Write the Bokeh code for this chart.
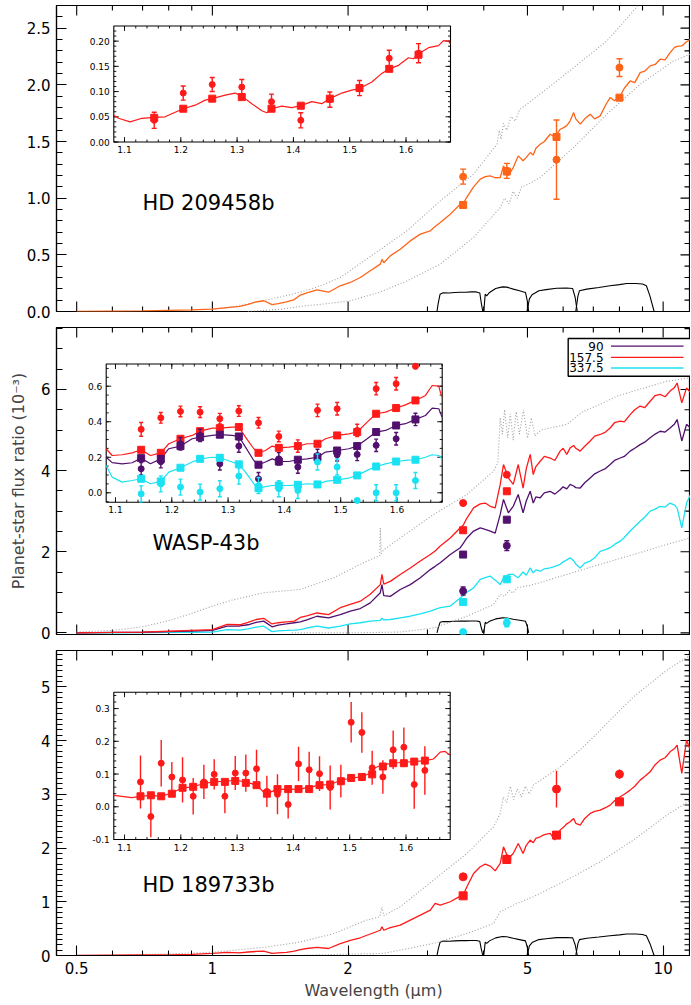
import numpy as np
from bokeh.plotting import figure
from bokeh.models import (Range1d, LinearScale, FixedTicker, SingleIntervalTicker,
                          NumeralTickFormatter, CustomJSTickFormatter, Label)
from bokeh.layouts import column
from bokeh.embed import file_html
from bokeh.resources import INLINE
from bokeh.core.properties import value

FONT = "DejaVu Sans"
ORANGE = "#FF6418"
RED = "#FF1A1A"
PURPLE = "#52106E"
CYAN = "#1AE2F2"
GREY = "#A0A0A0"

# ---------------------------------------------------------------- data
# common wavelength grid (micron) for the model spectra
model_wl = [0.50, 0.60, 0.70, 0.80, 0.90, 1.00, 1.078, 1.15, 1.20, 1.25,
            1.30, 1.356, 1.40, 1.46, 1.52, 1.567, 1.62, 1.706, 1.81, 1.922,
            2.023, 2.129, 2.24, 2.358, 2.378, 2.40, 2.481, 2.611, 2.748, 2.893,
            3.044, 3.12, 3.203, 3.371, 3.548, 3.60, 3.67, 3.797, 3.929, 4.03,
            4.135, 4.24, 4.351, 4.424, 4.535, 4.65, 4.77, 4.89, 4.97, 5.071,
            5.15, 5.22, 5.336, 5.45, 5.616, 5.75, 5.909, 6.0, 6.113, 6.219,
            6.33, 6.40, 6.546, 6.70, 6.888, 7.05, 7.249, 7.45, 7.629, 7.80,
            8.029, 8.20, 8.449, 8.65, 8.892, 9.10, 9.358, 9.60, 9.847, 10.10,
            10.36, 10.60, 10.74, 11.00, 11.27, 11.50]

# IRAC bandpasses (relative response)
irac1_wl = [3.15, 3.17, 3.20, 3.25, 3.35, 3.45, 3.55, 3.65, 3.75, 3.85, 3.92, 3.95, 3.98]
irac1_t = [0.0, 0.30, 0.62, 0.67, 0.66, 0.68, 0.69, 0.69, 0.70, 0.70, 0.66, 0.30, 0.0]
irac2_wl = [4.00, 4.03, 4.06, 4.12, 4.25, 4.40, 4.50, 4.65, 4.80, 4.95, 5.00, 5.03]
irac2_t = [0.0, 0.62, 0.56, 0.68, 0.82, 0.88, 0.87, 0.80, 0.74, 0.68, 0.35, 0.0]
irac3_wl = [4.99, 5.05, 5.12, 5.30, 5.50, 5.80, 6.10, 6.30, 6.38, 6.45]
irac3_t = [0.0, 0.45, 0.60, 0.74, 0.78, 0.83, 0.84, 0.82, 0.50, 0.0]
irac4_wl = [6.40, 6.47, 6.52, 6.77, 7.20, 7.62, 8.00, 8.30, 8.70, 9.00, 9.18, 9.35, 9.55]
irac4_t = [0.0, 0.55, 0.74, 0.80, 0.86, 0.92, 0.96, 1.00, 1.00, 0.98, 0.92, 0.55, 0.0]

# ---- HD 209458b
hd209_model = [0.0, 0.002, 0.005, 0.01, 0.015, 0.021, 0.035, 0.046, 0.063, 0.085,
               0.095, 0.060, 0.070, 0.085, 0.105, 0.145, 0.165, 0.19, 0.17, 0.227,
               0.256, 0.30, 0.359, 0.418, 0.46, 0.43, 0.491, 0.55, 0.623, 0.683,
               0.712, 0.75, 0.785, 0.859, 0.947, 0.95, 1.01, 1.10, 1.168, 1.19,
               1.197, 1.18, 1.182, 1.285, 1.20, 1.27, 1.373, 1.33, 1.36, 1.402,
               1.38, 1.44, 1.476, 1.50, 1.564, 1.54, 1.608, 1.62, 1.64, 1.682,
               1.755, 1.70, 1.653, 1.70, 1.741, 1.70, 1.726, 1.82, 1.887, 1.86,
               1.902, 1.97, 2.034, 2.02, 2.108, 2.12, 2.167, 2.18, 2.226, 2.22,
               2.284, 2.33, 2.34, 2.343, 2.38, 2.402]
hd209_hi_wl = [1.0, 1.15, 1.28, 1.42, 1.567, 1.72, 1.922, 2.279, 2.703, 3.203, 3.797, 4.279, 4.33,
               4.37, 4.424, 4.50, 4.60, 4.70, 4.80, 4.986, 5.811, 6.327, 7.502, 8.593, 9.2]
hd209_hi = [0.02, 0.05, 0.09, 0.13, 0.17, 0.22, 0.30, 0.506, 0.712, 0.976, 1.212, 1.476, 1.60,
            1.52, 1.66, 1.60, 1.72, 1.68, 1.78, 1.829, 2.034, 2.152, 2.387, 2.652, 2.80]
hd209_lo_wl = [1.2, 1.42, 1.567, 1.80, 2.02, 2.35, 2.703, 3.203, 3.797, 4.351, 4.45,
               4.55, 4.65, 4.75, 4.85, 5.0, 5.336, 6.327, 7.502, 8.892, 10.55, 11.5]
hd209_lo = [0.0, 0.02, 0.045, 0.07, 0.094, 0.17, 0.27, 0.418, 0.653, 0.917, 1.0,
            0.95, 1.06, 1.0, 1.1, 1.12, 1.182, 1.446, 1.741, 2.005, 2.211, 2.27]
spitzer_wl = [3.6, 4.5, 5.8, 8.0]
hd209_obs = [1.19, 1.241, 1.34, 2.152]
hd209_err = [0.066, 0.066, 0.35, 0.078]
hd209_band = [0.94, 1.235, 1.54, 1.887]
hd209_wfc3_wl = [1.1528, 1.2043, 1.2558, 1.3083, 1.3611, 1.4131, 1.4647, 1.5174, 1.5702, 1.6222]
hd209_wfc3 = [0.043, 0.097, 0.114, 0.109, 0.080, 0.043, 0.084, 0.107, 0.166, 0.176]
hd209_wfc3_err = [0.016, 0.014, 0.014, 0.015, 0.015, 0.015, 0.015, 0.015, 0.016, 0.019]
hd209_wfc3_band = [0.048, 0.066, 0.086, 0.089, 0.066, 0.072, 0.086, 0.107, 0.145, 0.173]
hd209_zoom_wl = [1.081, 1.0893, 1.110, 1.1308, 1.1528, 1.1722, 1.184, 1.2043, 1.2255, 1.2433,
                 1.2558, 1.2788, 1.2966, 1.3083, 1.3261, 1.3439, 1.3528, 1.3611, 1.3794, 1.3972,
                 1.4131, 1.4327, 1.4505, 1.4647, 1.486, 1.5037, 1.5174, 1.5393, 1.557, 1.5702,
                 1.5867, 1.6044, 1.6133, 1.6222, 1.64, 1.6577, 1.6666, 1.6755, 1.6785]
hd209_zoom = [0.053, 0.047, 0.040, 0.047, 0.049, 0.050, 0.056, 0.066, 0.073, 0.083,
              0.086, 0.093, 0.097, 0.091, 0.076, 0.062, 0.058, 0.066, 0.071, 0.068,
              0.072, 0.080, 0.076, 0.086, 0.097, 0.103, 0.106, 0.119, 0.136, 0.145,
              0.152, 0.167, 0.165, 0.175, 0.187, 0.191, 0.201, 0.200, 0.195]

# ---- WASP-43b (orbital phases 90, 157.5, 337.5 deg)
wasp_phases = ["90", "157.5", "337.5"]
wasp_model_90 = [0.0, 0.01, 0.015, 0.03, 0.045, 0.06, 0.165, 0.17, 0.20, 0.26,
                 0.29, 0.15, 0.19, 0.22, 0.25, 0.27, 0.32, 0.41, 0.37, 0.45,
                 0.535, 0.60, 0.74, 0.99, 1.19, 0.92, 0.90, 1.07, 1.19, 1.36,
                 1.56, 1.64, 1.73, 1.93, 2.10, 2.20, 2.34, 2.51, 2.59, 2.55,
                 2.51, 2.46, 2.92, 3.29, 2.96, 3.12, 3.41, 2.96, 3.25, 3.49,
                 3.20, 3.35, 3.33, 3.45, 3.49, 3.42, 3.53, 3.60, 3.55, 3.66,
                 3.62, 3.58, 3.57, 3.70, 3.82, 3.92, 3.99, 4.05, 4.15, 4.25,
                 4.31, 4.35, 4.48, 4.55, 4.64, 4.70, 4.81, 4.90, 4.97, 4.95,
                 5.05, 5.15, 5.26, 4.73, 5.14, 5.05]
wasp_model_157 = [0.0, 0.01, 0.02, 0.04, 0.06, 0.08, 0.21, 0.20, 0.26, 0.33,
                  0.36, 0.22, 0.25, 0.27, 0.29, 0.38, 0.42, 0.49, 0.45, 0.62,
                  0.70, 0.78, 0.95, 1.19, 1.44, 1.20, 1.27, 1.44, 1.60, 1.77,
                  1.93, 2.02, 2.14, 2.34, 2.59, 2.65, 2.83, 3.08, 3.18, 3.20,
                  3.12, 3.08, 3.66, 4.15, 3.82, 3.66, 4.15, 3.57, 4.05, 4.40,
                  3.90, 4.10, 4.23, 4.35, 4.31, 4.25, 4.48, 4.55, 4.40, 4.56,
                  4.62, 4.55, 4.48, 4.60, 4.73, 4.85, 4.89, 4.95, 5.05, 5.18,
                  5.22, 5.20, 5.38, 5.50, 5.59, 5.55, 5.71, 5.85, 5.88, 5.82,
                  5.96, 6.05, 6.16, 5.67, 6.04, 5.92]
wasp_model_337 = [0.0, 0.0, 0.005, 0.01, 0.015, 0.02, 0.08, 0.07, 0.10, 0.14,
                  0.165, 0.03, 0.05, 0.06, 0.07, 0.08, 0.12, 0.165, 0.12, 0.165,
                  0.22, 0.25, 0.29, 0.31, 0.36, 0.32, 0.33, 0.37, 0.41, 0.47,
                  0.535, 0.58, 0.62, 0.66, 0.86, 0.92, 1.0, 1.11, 1.32, 1.36,
                  1.40, 1.30, 1.19, 1.36, 1.44, 1.44, 1.36, 1.50, 1.42, 1.60,
                  1.48, 1.55, 1.52, 1.58, 1.60, 1.64, 1.69, 1.75, 1.80, 1.85,
                  1.78, 1.70, 1.60, 1.72, 1.77, 1.85, 2.01, 2.05, 2.10, 2.18,
                  2.26, 2.35, 2.51, 2.62, 2.75, 2.85, 3.00, 3.05, 3.12, 3.10,
                  3.20, 3.15, 3.08, 2.59, 3.20, 3.41]
wasp_hi_wl = [0.50, 0.60, 0.70, 0.80, 0.90, 1.00, 1.10, 1.30, 1.567, 1.859,
              2.202, 2.35, 2.358, 2.37, 2.40, 2.611, 3.096, 3.67, 4.207, 4.30,
              4.35, 4.40, 4.45, 4.52, 4.58, 4.65, 4.72, 4.80, 4.90, 5.00,
              5.10, 5.20, 5.35, 5.616, 6.113, 6.65, 7.249, 7.88, 8.59, 9.358,
              10.19, 11.5]
wasp_hi = [0.02, 0.06, 0.15, 0.30, 0.48, 0.66, 0.80, 0.99, 1.07, 1.36,
           1.77, 1.90, 2.59, 1.95, 2.05, 2.34, 2.92, 3.41, 3.99, 4.20,
           5.30, 4.90, 5.50, 4.80, 5.40, 4.75, 5.45, 4.90, 5.50, 4.80,
           5.30, 4.85, 5.00, 5.05, 5.14, 5.46, 5.63, 5.83, 5.96, 6.08,
           6.20, 6.29]
wasp_lo_wl = [1.5, 2.0, 2.611, 3.096, 3.67, 4.207, 4.351, 4.45, 4.55, 4.65, 4.74, 5.15,
              6.113, 7.249, 8.59, 10.19, 11.5]
wasp_lo = [0.0, 0.0, 0.02, 0.12, 0.41, 0.70, 0.95, 0.90, 1.05, 0.98, 1.11, 1.19,
           1.44, 1.69, 1.93, 2.18, 2.34]
wasp_obs_wl = [3.6, 4.5]
wasp_obs_90 = [1.03, 2.15]
wasp_err_90 = [0.10, 0.12]
wasp_band_90 = [1.93, 2.79]
wasp_obs_157 = [3.20, 3.90]
wasp_err_157 = [0.05, 0.05]
wasp_band_157 = [2.53, 3.49]
wasp_obs_337 = [0.02, 0.25]
wasp_err_337 = [0.06, 0.10]
wasp_band_337 = [0.76, 1.32]
wasp_wfc3_wl = [1.1456, 1.1805, 1.2154, 1.2503, 1.2853, 1.3191, 1.3540, 1.3901,
                1.4239, 1.4588, 1.4937, 1.5293, 1.5630, 1.5985, 1.6328]
wasp_wfc3_157 = [0.357, 0.422, 0.458, 0.454, 0.417, 0.460, 0.394, 0.317,
                 0.263, 0.464, 0.473, 0.351, 0.586, 0.614, 0.712]
wasp_wfc3_err_157 = [0.039, 0.03, 0.03, 0.03, 0.03, 0.03, 0.03, 0.03,
                     0.035, 0.035, 0.035, 0.035, 0.035, 0.035, 0.012]
wasp_wfc3_band_157 = [0.242, 0.225, 0.304, 0.347, 0.364, 0.370, 0.225, 0.253,
                      0.263, 0.276, 0.323, 0.342, 0.445, 0.477, 0.520]
wasp_wfc3_90 = [0.135, 0.175, 0.276, 0.323, 0.163, 0.263, 0.079, 0.191,
                0.145, 0.210, 0.214, 0.216, 0.267, 0.304, 0.413]
wasp_wfc3_err_90 = [0.035, 0.035, 0.035, 0.035, 0.035, 0.035, 0.035, 0.035,
                    0.035, 0.035, 0.035, 0.035, 0.035, 0.035, 0.035]
wasp_wfc3_band_90 = [0.195, 0.19, 0.263, 0.313, 0.327, 0.317, 0.158, 0.176,
                     0.186, 0.200, 0.238, 0.263, 0.342, 0.379, 0.413]
wasp_wfc3_337 = [-0.006, 0.05, 0.032, 0.004, 0.023, 0.094, 0.041, 0.023,
                 0.013, 0.173, 0.145, -0.043, 0.0, 0.0, 0.069]
wasp_wfc3_err_337 = [0.045, 0.045, 0.045, 0.045, 0.045, 0.045, 0.045, 0.045,
                     0.045, 0.045, 0.045, 0.008, 0.045, 0.045, 0.045]
wasp_wfc3_band_337 = [0.079, 0.064, 0.141, 0.191, 0.197, 0.16, 0.026, 0.041,
                      0.045, 0.047, 0.073, 0.098, 0.148, 0.176, 0.186]
wasp_zoom_wl = [1.0834, 1.0941, 1.1118, 1.1296, 1.1456, 1.1621, 1.1805, 1.1947, 1.2154, 1.2362,
                1.2504, 1.2717, 1.2853, 1.3072, 1.3191, 1.3309, 1.3457, 1.354, 1.3664, 1.3783,
                1.3901, 1.4079, 1.4239, 1.4405, 1.4588, 1.473, 1.4938, 1.5145, 1.5293, 1.547,
                1.563, 1.5796, 1.5985, 1.6151, 1.6329, 1.6506, 1.6625, 1.6743, 1.677, 1.680]
wasp_zoom_157 = [0.248, 0.21, 0.214, 0.225, 0.242, 0.21, 0.225, 0.276, 0.304, 0.323,
                 0.347, 0.364, 0.364, 0.37, 0.37, 0.313, 0.248, 0.225, 0.238, 0.263,
                 0.253, 0.257, 0.263, 0.276, 0.276, 0.304, 0.323, 0.332, 0.342, 0.398,
                 0.445, 0.454, 0.477, 0.495, 0.52, 0.548, 0.604, 0.6, 0.567, 0.539]
wasp_zoom_90 = [0.2, 0.17, 0.163, 0.169, 0.195, 0.163, 0.191, 0.248, 0.263, 0.304,
                0.313, 0.323, 0.327, 0.323, 0.317, 0.257, 0.182, 0.158, 0.173, 0.191,
                0.176, 0.176, 0.186, 0.191, 0.2, 0.229, 0.238, 0.248, 0.263, 0.304,
                0.342, 0.351, 0.379, 0.389, 0.413, 0.435, 0.477, 0.473, 0.45, 0.426]
wasp_zoom_337 = [0.154, 0.088, 0.06, 0.069, 0.079, 0.051, 0.064, 0.116, 0.141, 0.173,
                 0.191, 0.2, 0.197, 0.173, 0.16, 0.116, 0.051, 0.026, 0.035, 0.041,
                 0.041, 0.041, 0.045, 0.051, 0.047, 0.064, 0.073, 0.083, 0.098, 0.126,
                 0.148, 0.163, 0.176, 0.182, 0.186, 0.2, 0.214, 0.21, 0.2, 0.191]

# ---- HD 189733b
hd189_model = [0.0, 0.005, 0.01, 0.01, 0.02, 0.04, 0.06, 0.05, 0.065, 0.075,
               0.08, 0.04, 0.05, 0.06, 0.08, 0.11, 0.13, 0.15, 0.13, 0.22,
               0.28, 0.33, 0.40, 0.47, 0.535, 0.47, 0.52, 0.566, 0.659, 0.752,
               0.845, 0.97, 0.938, 1.0, 1.105, 1.124, 1.28, 1.527, 1.651, 1.70,
               1.663, 1.576, 1.713, 2.023, 1.806, 1.899, 2.085, 1.899, 2.05, 2.147,
               2.10, 2.18, 2.209, 2.25, 2.271, 2.15, 2.333, 2.38, 2.45, 2.488,
               2.55, 2.46, 2.426, 2.55, 2.643, 2.68, 2.705, 2.75, 2.798, 2.88,
               2.953, 3.0, 3.077, 3.15, 3.263, 3.33, 3.418, 3.55, 3.635, 3.68,
               3.790, 3.85, 3.914, 3.387, 4.007, 3.821]
hd189_hi_wl = [0.50, 0.70, 0.80, 1.0, 1.30, 1.567, 1.859, 2.202, 2.35, 2.378,
               2.40, 2.611, 3.096, 3.67, 4.207, 4.351, 4.42, 4.50, 4.58, 4.66,
               4.75, 4.85, 4.95, 5.05, 5.15, 5.909, 6.65, 7.249, 7.88, 8.59,
               9.358, 10.19, 11.5]
hd189_hi = [0.0, 0.02, 0.03, 0.06, 0.15, 0.25, 0.41, 0.66, 0.72, 0.907,
            0.74, 0.907, 1.403, 1.899, 2.395, 2.643, 2.95, 2.85, 3.15, 2.90,
            3.10, 2.95, 3.15, 3.0, 3.17, 3.51, 3.88, 4.19, 4.50, 4.81,
            5.06, 5.31, 5.59]
hd189_lo_wl = [1.5, 2.40, 3.096, 3.67, 4.207, 4.351, 4.74, 5.15, 6.113, 7.249, 8.59, 10.19, 11.5]
hd189_lo = [0.0, 0.04, 0.225, 0.41, 0.597, 0.814, 0.969, 1.093, 1.403, 1.744, 2.147, 2.612, 2.89]
hd189_obs = [1.464, 1.80, 3.096, 3.374]
hd189_err = [0.03, 0.03, 0.34, 0.087]
hd189_band = [1.11, 1.786, 2.24, 2.859]
hd189_wfc3_wl = [1.1284, 1.1468, 1.1652, 1.1841, 1.2031, 1.222, 1.241, 1.2593, 1.2783, 1.2967,
                 1.3155, 1.3345, 1.3529, 1.3717, 1.3907, 1.4091, 1.4280, 1.4464, 1.4653, 1.4843,
                 1.5026, 1.5216, 1.5399, 1.5589, 1.5772, 1.5962, 1.6146, 1.6335]
hd189_wfc3 = [0.076, -0.030, 0.133, 0.091, 0.082, 0.032, 0.076, 0.099, 0.032, 0.103,
              0.103, 0.116, 0.047, 0.038, 0.007, 0.131, 0.113, 0.101, 0.059, 0.078,
              0.258, 0.227, 0.119, 0.091, 0.174, 0.182, 0.068, 0.111]
hd189_wfc3_err = [0.081, 0.063, 0.071, 0.046, 0.069, 0.056, 0.052, 0.046, 0.052, 0.052,
                  0.057, 0.058, 0.048, 0.061, 0.043, 0.052, 0.055, 0.053, 0.067, 0.050,
                  0.062, 0.062, 0.052, 0.051, 0.059, 0.060, 0.074, 0.074]
hd189_wfc3_band = [0.032, 0.035, 0.032, 0.040, 0.058, 0.061, 0.068, 0.076, 0.076, 0.079,
                   0.073, 0.066, 0.040, 0.054, 0.054, 0.054, 0.054, 0.066, 0.068, 0.078,
                   0.088, 0.091, 0.099, 0.123, 0.133, 0.133, 0.138, 0.141]
hd189_zoom_wl = [1.081, 1.0953, 1.113, 1.1284, 1.1468, 1.1652, 1.1841, 1.2031, 1.222, 1.241,
                 1.2593, 1.2783, 1.2967, 1.3155, 1.3345, 1.3469, 1.3529, 1.3717, 1.3907, 1.4091,
                 1.4280, 1.4464, 1.4653, 1.4843, 1.5026, 1.5216, 1.5399, 1.5452, 1.5589, 1.5772,
                 1.5962, 1.6146, 1.6335, 1.6488, 1.6607, 1.6696, 1.6784]
hd189_zoom = [0.035, 0.032, 0.028, 0.032, 0.035, 0.032, 0.042, 0.058, 0.061, 0.071,
              0.076, 0.078, 0.081, 0.076, 0.066, 0.045, 0.040, 0.054, 0.053, 0.054,
              0.059, 0.066, 0.068, 0.081, 0.088, 0.091, 0.106, 0.119, 0.129, 0.133,
              0.136, 0.138, 0.141, 0.146, 0.167, 0.169, 0.157]

# bandpass display scale per panel (in panel units)
hd209_filter_scale = 0.247
wasp_filter_scale = 0.42
hd189_filter_scale = 0.40

# main axes ticks
x_major = [0.5, 1, 2, 5, 10]
x_minor = [0.6, 0.7, 0.8, 0.9, 3, 4, 6, 7, 8, 9]
inset_x_major = [1.1, 1.2, 1.3, 1.4, 1.5, 1.6]
inset_x_labels = ["1.1", "1.2", "1.3", "1.4", "1.5", "1.6"]

# ---------------------------------------------------------------- layout
FRAME_L = 56
FRAME_W = 634
X_RANGE = (0.451, 11.5)


def style_axis(ax, ticker, size="15px"):
    ax.ticker = ticker
    ax.axis_line_color = "black"
    ax.axis_line_width = 1.2
    ax.major_tick_line_color = "black"
    ax.minor_tick_line_color = "black"
    ax.major_tick_line_width = 1.1
    ax.minor_tick_line_width = 1.0
    ax.major_tick_in = 10
    ax.major_tick_out = 0
    ax.minor_tick_in = 5
    ax.minor_tick_out = 0
    ax.major_label_text_font = FONT
    ax.major_label_text_color = "black"
    ax.major_label_text_font_size = size
    ax.major_label_standoff = 6


def frame_ticks(p, yr, frame_h, yint, ynminor, bottom):
    """inward ticks on top (and bottom) and right edges of the main frame"""
    ypp = (yr[1] - yr[0]) / frame_h
    dpp = np.log10(X_RANGE[1] / X_RANGE[0]) / FRAME_W
    y_maj = [round(v, 6) for v in np.arange(np.ceil(yr[0] / yint) * yint, yr[1] + 1e-9, yint)]
    step = yint / ynminor
    y_min = [round(v, 6) for v in np.arange(np.ceil(yr[0] / step) * step, yr[1] + 1e-9, step)]
    y_min = [v for v in y_min if min(abs(v - m) for m in y_maj) > 1e-6]
    segs = []
    for ticks, ln in ((x_major, 10), (x_minor, 5)):
        for t in ticks:
            segs.append((t, yr[1], t, yr[1] - ln * ypp))
            if bottom:
                segs.append((t, yr[0], t, yr[0] + ln * ypp))
    for ticks, ln in ((y_maj, 10), (y_min, 6)):
        for t in ticks:
            segs.append((X_RANGE[1], t, X_RANGE[1] / 10 ** (ln * dpp), t))
    p.segment(x0=[s[0] for s in segs], y0=[s[1] for s in segs],
              x1=[s[2] for s in segs], y1=[s[3] for s in segs],
              line_color="black", line_width=1.1)


def make_panel(frame_h, yr, yint, ynminor, yfmt, btop, bbot, xlabels, ylabel=None):
    p = figure(x_axis_type="log", x_range=Range1d(*X_RANGE), y_range=Range1d(*yr),
               frame_width=FRAME_W, frame_height=frame_h,
               min_border_left=FRAME_L, min_border_right=0,
               min_border_top=btop, min_border_bottom=bbot,
               x_axis_location="below" if xlabels else None,
               output_backend="svg", toolbar_location=None)
    p.grid.visible = False
    p.outline_line_color = "black"
    p.outline_line_width = 1.2
    if xlabels:
        bx = p.below[0]
        style_axis(bx, FixedTicker(ticks=x_major, minor_ticks=x_minor))
        bx.formatter = CustomJSTickFormatter(code="return String(tick);")
    ly = p.left[0]
    style_axis(ly, SingleIntervalTicker(interval=yint, num_minor_ticks=ynminor))
    ly.minor_tick_in = 6
    if yfmt:
        ly.formatter = NumeralTickFormatter(format=yfmt)
    if ylabel:
        ly.axis_label = ylabel
        ly.axis_label_text_font = FONT
        ly.axis_label_text_font_size = "16px"
        ly.axis_label_text_font_style = "normal"
        ly.axis_label_standoff = 10
    frame_ticks(p, yr, frame_h, yint, ynminor, bottom=not xlabels)
    return p


def draw_filters(p, scale, channels):
    for wl, t in channels:
        p.line(wl, [v * scale for v in t], line_color="black", line_width=1.1)


def errorbars(p, x, y, e, color, cap=0, lw=1.4, **kw):
    lo = [a - b for a, b in zip(y, e)]
    hi = [a + b for a, b in zip(y, e)]
    p.segment(x0=x, y0=lo, x1=x, y1=hi, line_color=color, line_width=lw, **kw)
    if cap:
        p.scatter(x=list(x) + list(x), y=lo + hi, marker="dash", size=cap,
                  line_color=color, line_width=lw, **kw)


def add_inset(p, frame_h, box, xr, yr, yticks, ylabels, yminor):
    L, R, T, B = box
    sx = (xr[1] - xr[0]) / (R - L)
    sy = (yr[1] - yr[0]) / (B - T)
    p.extra_x_ranges = {"ix": Range1d(xr[0] - L * sx, xr[1] + (FRAME_W - R) * sx)}
    p.extra_y_ranges = {"iy": Range1d(yr[0] - (frame_h - B) * sy, yr[1] + T * sy)}
    p.extra_x_scales = {"ix": LinearScale()}
    kw = dict(x_range_name="ix", y_range_name="iy")
    p.quad(left=[xr[0]], right=[xr[1]], bottom=[yr[0]], top=[yr[1]],
           fill_color="white", line_color="black", line_width=1.1, **kw)
    xmin = [round(v, 4) for v in np.arange(np.ceil(xr[0] / 0.02) * 0.02, xr[1], 0.02)]
    ymin = [round(v, 4) for v in np.arange(np.ceil(yr[0] / yminor) * yminor, yr[1], yminor)]
    segs = []
    for ticks, ln in ((inset_x_major, 5), (xmin, 2.5)):
        for t in ticks:
            segs.append((t, yr[0], t, yr[0] + ln * sy))
            segs.append((t, yr[1], t, yr[1] - ln * sy))
    for ticks, ln in ((yticks, 5), (ymin, 2.5)):
        for t in ticks:
            if yr[0] <= t <= yr[1]:
                segs.append((xr[0], t, xr[0] + ln * sx, t))
                segs.append((xr[1], t, xr[1] - ln * sx, t))
    p.segment(x0=[s[0] for s in segs], y0=[s[1] for s in segs],
              x1=[s[2] for s in segs], y1=[s[3] for s in segs],
              line_color="black", line_width=0.9, **kw)
    p.text(x=inset_x_major, y=[yr[0] - 4 * sy] * len(inset_x_major), text=inset_x_labels,
           text_font=value(FONT), text_font_size=value("9px"), text_align="center",
           text_baseline="top", text_color="black", **kw)
    p.text(x=[xr[0] - 4 * sx] * len(yticks), y=yticks, text=ylabels,
           text_font=value(FONT), text_font_size=value("9px"), text_align="right",
           text_baseline="middle", text_color="black", **kw)
    return kw


def points(p, x, obs, err, band, color, cap, csize=7, ssize=7, **kw):
    p.scatter(x=x, y=band, marker="square", size=ssize, fill_color=color, line_color=color, **kw)
    errorbars(p, x, obs, err, color, cap=cap, **kw)
    p.scatter(x=x, y=obs, marker="circle", size=csize, fill_color=color, line_color=color, **kw)


def label(p, x, y, text):
    p.add_layout(Label(x=x, y=y, text=text, text_font=FONT, text_font_size="21px",
                       text_baseline="middle", text_align="left", text_color="black"))


all_irac = [(irac1_wl, irac1_t), (irac2_wl, irac2_t), (irac3_wl, irac3_t), (irac4_wl, irac4_t)]

# ---------------------------------------------------------------- panel 1: HD 209458b
H1 = 306
p1 = make_panel(H1, (0, 2.7), 0.5, 5, "0.0", 5, 10, False)
draw_filters(p1, hd209_filter_scale, all_irac)
p1.line(hd209_hi_wl, hd209_hi, line_color=GREY, line_dash="1 2", line_width=1.1)
p1.line(hd209_lo_wl, hd209_lo, line_color=GREY, line_dash="1 2", line_width=1.1)
p1.line(model_wl, hd209_model, line_color=ORANGE, line_width=1.3)
points(p1, spitzer_wl, hd209_obs, hd209_err, hd209_band, ORANGE, 6)
kw = add_inset(p1, H1, (57.3, 394.0, 20.5, 136.5), (1.081, 1.679), (0.0, 0.23),
               [0.0, 0.05, 0.10, 0.15, 0.20], ["0.00", "0.05", "0.10", "0.15", "0.20"], 0.01)
p1.line(hd209_zoom_wl, hd209_zoom, line_color=RED, line_width=1.2, **kw)
points(p1, hd209_wfc3_wl, hd209_wfc3, hd209_wfc3_err, hd209_wfc3_band, RED, 5, 6, 7, **kw)
label(p1, 0.6995, 0.958, "HD 209458b")

# ---------------------------------------------------------------- panel 2: WASP-43b
H2 = 307
p2 = make_panel(H2, (-0.04, 7.527), 2, 4, None, 6, 8, False,
                ylabel="Planet-star flux ratio (10\u207b\u00b3)")
draw_filters(p2, wasp_filter_scale, all_irac[:2])
p2.line(wasp_hi_wl, wasp_hi, line_color=GREY, line_dash="1 2", line_width=1.1)
p2.line(wasp_lo_wl, wasp_lo, line_color=GREY, line_dash="1 2", line_width=1.1)
p2.line(model_wl, wasp_model_337, line_color=CYAN, line_width=1.3)
p2.line(model_wl, wasp_model_90, line_color=PURPLE, line_width=1.3)
p2.line(model_wl, wasp_model_157, line_color=RED, line_width=1.3)
points(p2, wasp_obs_wl, wasp_obs_337, wasp_err_337, wasp_band_337, CYAN, 5)
points(p2, wasp_obs_wl, wasp_obs_90, wasp_err_90, wasp_band_90, PURPLE, 5)
points(p2, wasp_obs_wl, wasp_obs_157, wasp_err_157, wasp_band_157, RED, 5)
kw = add_inset(p2, H2, (49.7, 385.7, 36.5, 174.7), (1.0835, 1.6803), (-0.053, 0.725),
               [0.0, 0.2, 0.4, 0.6], ["0.0", "0.2", "0.4", "0.6"], 0.05)
p2.line(wasp_zoom_wl, wasp_zoom_157, line_color=RED, line_width=1.2, **kw)
p2.line(wasp_zoom_wl, wasp_zoom_90, line_color=PURPLE, line_width=1.2, **kw)
p2.line(wasp_zoom_wl, wasp_zoom_337, line_color=CYAN, line_width=1.2, **kw)
points(p2, wasp_wfc3_wl, wasp_wfc3_157, wasp_wfc3_err_157, wasp_wfc3_band_157, RED, 4, 6, 7, **kw)
points(p2, wasp_wfc3_wl, wasp_wfc3_90, wasp_wfc3_err_90, wasp_wfc3_band_90, PURPLE, 4, 6, 7, **kw)
points(p2, wasp_wfc3_wl, wasp_wfc3_337, wasp_wfc3_err_337, wasp_wfc3_band_337, CYAN, 4, 6, 7, **kw)
# legend (label right-aligned, line sample to the right)
p2.quad(left=[6.157], right=[12.5], bottom=[6.327], top=[7.257],
        fill_color="white", line_color="black", line_width=1.4)
leg_y = [7.067, 6.79, 6.53]
p2.text(x=[7.375] * 3, y=leg_y, text=wasp_phases, text_font=value(FONT),
        text_font_size=value("12px"), text_align="right", text_baseline="middle",
        text_color="black")
p2.segment(x0=[7.66] * 3, y0=leg_y, x1=[11.1] * 3, y1=leg_y,
           line_color=[PURPLE, RED, CYAN], line_width=1.4)
label(p2, 0.736, 2.218, "WASP-43b")

# ---------------------------------------------------------------- panel 3: HD 189733b
H3 = 305
p3 = make_panel(H3, (0, 5.675), 1, 10, None, 8, 50, True)
bx = p3.below[0]
bx.axis_label = "Wavelength (\u03bcm)"
bx.axis_label_text_font = FONT
bx.axis_label_text_font_size = "16px"
bx.axis_label_text_font_style = "normal"
bx.axis_label_standoff = 4
draw_filters(p3, hd189_filter_scale, all_irac)
p3.line(hd189_hi_wl, hd189_hi, line_color=GREY, line_dash="1 2", line_width=1.1)
p3.line(hd189_lo_wl, hd189_lo, line_color=GREY, line_dash="1 2", line_width=1.1)
p3.line(model_wl, hd189_model, line_color=RED, line_width=1.3)
points(p3, spitzer_wl, hd189_obs, hd189_err, hd189_band, RED, 0, 8, 8)
kw = add_inset(p3, H3, (57.3, 393.7, 41.7, 189.0), (1.081, 1.6785), (-0.1, 0.35),
               [-0.1, 0.0, 0.1, 0.2, 0.3], ["-0.1", "0.0", "0.1", "0.2", "0.3"], 0.02)
p3.line(hd189_zoom_wl, hd189_zoom, line_color=RED, line_width=1.2, **kw)
points(p3, hd189_wfc3_wl, hd189_wfc3, hd189_wfc3_err, hd189_wfc3_band, RED, 0, 6, 7, **kw)
label(p3, 0.6995, 1.31, "HD 189733b")

layout = column(p1, p2, p3)
open("out.html", "w").write(file_html(layout, INLINE))
